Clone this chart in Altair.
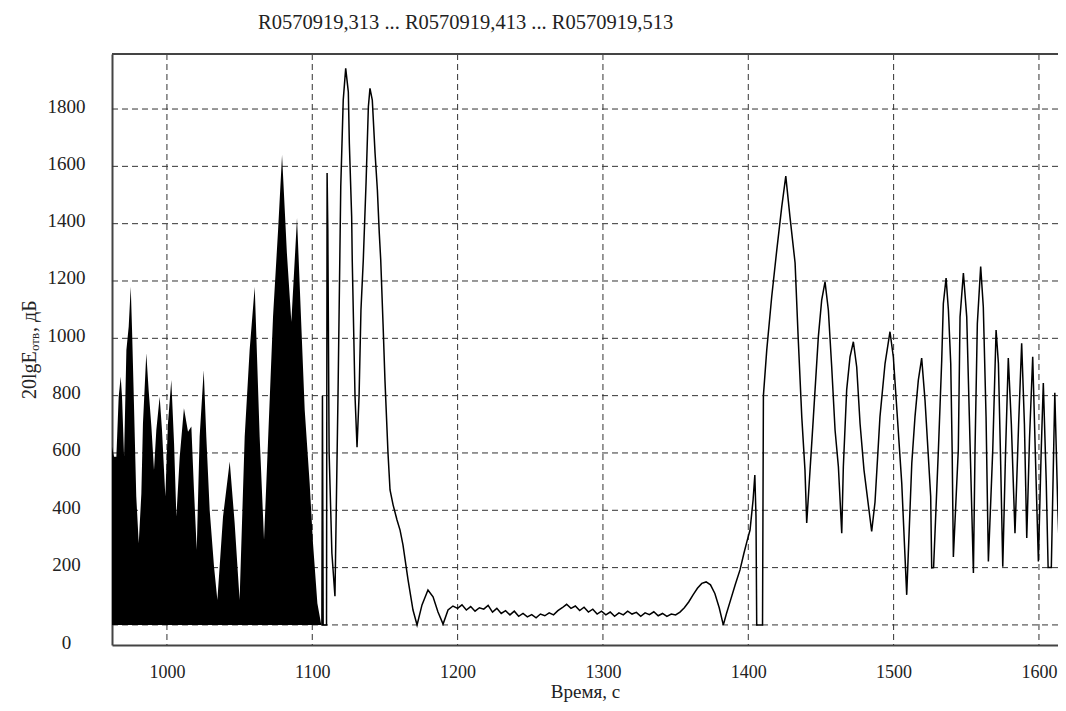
import altair as alt
import pandas as pd

# ---------------- data ----------------
title_text = "R0570919,313 ... R0570919,413 ... R0570919,513"
x_title = "Время, с"

# dense (solid black) region: upper envelope of the signal
dense_t = [962.2, 963.6, 965.2, 966.8, 968.2, 969.1, 970.5, 972.1, 973.7, 975.1,
           976.0, 977.3, 978.9, 980.6, 982.4, 983.5, 985.8, 987.4, 989.3, 991.1,
           992.7, 995.0, 996.6, 998.9, 1000.7, 1003.0, 1004.9, 1006.5, 1008.8, 1011.7,
           1014.5, 1016.8, 1018.6, 1020.5, 1022.5, 1025.3, 1027.1, 1029.4, 1032.4, 1034.7,
           1038.6, 1043.2, 1046.6, 1050.0, 1053.5, 1056.9, 1060.4, 1063.8, 1066.8, 1069.5,
           1073.0, 1076.5, 1079.2, 1082.5, 1085.6, 1089.5, 1094.8, 1098.2, 1100.5, 1103.5,
           1106.2]
dense_v = [622, 587, 587, 796, 866, 796, 587, 959, 1041, 1180,
           1029, 773, 448, 285, 459, 703, 948, 820, 692, 541,
           680, 796, 680, 448, 703, 855, 634, 378, 587, 756,
           674, 692, 471, 262, 657, 889, 657, 401, 203, 87,
           378, 570, 355, 87, 657, 959, 1180, 657, 297, 634,
           1076, 1380, 1640, 1300, 1058, 1420, 750, 494, 285, 76,
           0]

# thin-line part of the signal
line_t = [1106.2, 1106.6, 1107.0, 1107.5, 1109.8, 1110.2, 1110.7, 1111.6, 1113.5, 1115.6,
          1117.7, 1119.6, 1121.3, 1123.0, 1124.8, 1125.5, 1127.1, 1127.5, 1129.4, 1130.8,
          1132.2, 1133.5, 1135.1, 1137.0, 1138.6, 1139.7, 1141.3, 1143.2, 1144.8, 1146.1,
          1147.1, 1148.7, 1150.0, 1152.1, 1153.5, 1155.6, 1158.3, 1160.4, 1162.4, 1165.9,
          1169.3, 1172.1, 1175.5, 1179.6, 1183.1, 1186.5, 1190.0, 1193.4, 1196.8, 1200,
          1203, 1206, 1209, 1212, 1215, 1218, 1221, 1224, 1227, 1230,
          1233, 1236, 1239, 1242, 1245, 1248, 1251, 1254, 1257, 1260,
          1263, 1266, 1269, 1272, 1275, 1278, 1281, 1284, 1287, 1290,
          1293, 1296, 1299, 1302, 1305, 1308, 1311, 1314, 1317, 1320,
          1323, 1326, 1329, 1332, 1335, 1338, 1341, 1344, 1347, 1350,
          1353, 1356, 1359, 1362, 1365, 1368, 1371, 1374, 1377, 1380,
          1382.8, 1385, 1388, 1391, 1394.3, 1397, 1399, 1401.2, 1403.3, 1404.5,
          1405.3, 1405.8, 1409.8, 1410.4, 1412.7, 1416.1, 1419.6, 1423.0, 1425.8, 1428.7,
          1432.2, 1434.4, 1436.8, 1439.0, 1440.2, 1442.5, 1444.8, 1448.2, 1450.5, 1452.8,
          1455.1, 1457.4, 1459.7, 1462.0, 1464.3, 1465.4, 1467.7, 1470.0, 1472.3, 1474.6,
          1476.9, 1479.6, 1484.9, 1487.2, 1490.6, 1494.1, 1497.5, 1499.8, 1502.1, 1505.6,
          1509.0, 1512.5, 1514.7, 1517.0, 1519.3, 1521.6, 1523.9, 1525.5, 1526.2, 1527.5,
          1530.8, 1533.1, 1534.2, 1536.1, 1537.7, 1539.3, 1540.3, 1541.1, 1544.5, 1545.7,
          1548.0, 1550.3, 1552.1, 1554.9, 1556.0, 1557.6, 1559.9, 1561.7, 1563.6, 1565.2,
          1568.2, 1570.5, 1572.1, 1573.5, 1575.1, 1577.0, 1578.9, 1581.0, 1583.5, 1586.0,
          1588.1, 1590.0, 1591.6, 1593.5, 1595.7, 1597.5, 1599.6, 1601.5, 1603.0, 1605.0,
          1606.3, 1608.5, 1610.9, 1613.0, 1614.5, 1617.0, 1619.0]
line_v = [0, 0, 800, 0, 0, 1577, 1378, 600, 250, 100,
          800, 1529, 1831, 1942, 1860, 1681, 1424, 1273, 800, 620,
          800, 1100, 1273, 1542, 1808, 1872, 1831, 1646, 1517, 1367,
          1273, 1050, 855, 600, 471, 419, 366, 331, 279, 157,
          52, 0, 70, 122, 98, 45, 3, 52, 66, 58,
          70, 52, 64, 48, 60, 55, 68, 45, 58, 40,
          50, 35, 48, 30, 40, 28, 36, 25, 38, 32,
          42, 35, 50, 60, 72, 58, 66, 50, 62, 45,
          55, 38, 48, 35, 45, 30, 42, 35, 48, 38,
          44, 30, 42, 36, 46, 32, 40, 30, 38, 35,
          45, 60, 80, 105, 128, 145, 150, 140, 110, 60,
          0, 40, 90, 140, 192, 250, 290, 331, 436, 523,
          380, 0, 0, 800, 959, 1144, 1308, 1458, 1566, 1423,
          1263, 994, 726, 541, 356, 541, 726, 1005, 1133, 1197,
          1098, 900, 680, 552, 320, 552, 820, 935, 988, 900,
          703, 541, 326, 429, 726, 912, 1023, 935, 761, 494,
          105, 564, 726, 854, 931, 784, 587, 448, 199, 200,
          610, 924, 1121, 1210, 1098, 912, 600, 237, 610, 1075,
          1228, 1075, 726, 181, 610, 1052, 1250, 1110, 726, 221,
          610, 1029, 912, 600, 203, 600, 931, 700, 320, 700,
          983, 700, 303, 650, 936, 600, 221, 600, 844, 500,
          200, 200, 810, 400, 200, 200, 820]

grid_y = [0, 200, 400, 600, 800, 1000, 1200, 1400, 1600, 1800]
grid_x = [1000, 1100, 1200, 1300, 1400, 1500, 1600]
y_label_values = [-70, 200, 400, 600, 800, 1000, 1200, 1400, 1600, 1800]

# ---------------- chart ----------------
FONT = "Liberation Serif"
W, H = 946, 591
xscale = alt.Scale(domain=[962.2, 1613.1], nice=False, zero=False)
yscale = alt.Scale(domain=[-70, 1992], nice=False, zero=False)

dense_df = pd.DataFrame({"t": dense_t, "v": dense_v})
line_df = pd.DataFrame({"t": line_t, "v": line_v})
gy_df = pd.DataFrame({"g": grid_y})
gx_df = pd.DataFrame({"g": grid_x})
one = pd.DataFrame({"a": [0]})

x_axis = alt.Axis(values=grid_x, format="d", ticks=False, grid=False,
                  domainColor="#444", domainWidth=2, labelPadding=18,
                  labelFont=FONT, labelFontSize=18, labelColor="#222",
                  title=x_title, titleFont=FONT, titleFontSize=19,
                  titleFontWeight="normal", titleColor="#222", titlePadding=1)
y_axis = alt.Axis(values=y_label_values, format="d",
                  labelExpr="datum.value < 0 ? '0' : datum.label",
                  ticks=False, grid=False, domainColor="#444", domainWidth=2,
                  labelPadding=46, labelAlign="center", labelFont=FONT, labelFontSize=19,
                  labelColor="#222", labelOffset=-3, labelOverlap=False, title=None)

hgrid = alt.Chart(gy_df).mark_rule(color="#333", strokeWidth=1, strokeDash=[6, 4]).encode(
    y=alt.Y("g:Q", scale=yscale, axis=y_axis))
vgrid = alt.Chart(gx_df).mark_rule(color="#333", strokeWidth=1, strokeDash=[6, 4]).encode(
    x=alt.X("g:Q", scale=xscale, axis=x_axis))

area = alt.Chart(dense_df).mark_area(color="black", clip=True).encode(
    x=alt.X("t:Q", scale=xscale, axis=x_axis),
    y=alt.Y("v:Q", scale=yscale, axis=y_axis))

line = alt.Chart(line_df).mark_line(color="black", strokeWidth=1.5, clip=True).encode(
    x=alt.X("t:Q", scale=xscale, axis=x_axis),
    y=alt.Y("v:Q", scale=yscale, axis=y_axis))

top_border = alt.Chart(one).mark_rule(color="#444", strokeWidth=2).encode(
    y=alt.value(0))

ytitle_a = alt.Chart(one).mark_text(text="20lgE", angle=270, align="left", baseline="middle",
                                    font=FONT, fontSize=20, color="#222").encode(
    x=alt.value(-82), y=alt.value(345))
ytitle_b = alt.Chart(one).mark_text(text="отв", angle=270, align="left", baseline="middle",
                                    font=FONT, fontSize=13, color="#222").encode(
    x=alt.value(-77), y=alt.value(297))
ytitle_c = alt.Chart(one).mark_text(text=", дБ", angle=270, align="left", baseline="middle",
                                    font=FONT, fontSize=20, color="#222").encode(
    x=alt.value(-82), y=alt.value(278))

chart = alt.layer(hgrid, vgrid, area, line, top_border, ytitle_a, ytitle_b, ytitle_c).properties(
    width=W, height=H,
    title=alt.TitleParams(title_text, anchor="start", frame="group", dx=146, offset=20,
                          font=FONT, fontSize=20.5, fontWeight="normal", color="#222"),
    autosize=alt.AutoSizeParams(type="none"),
    padding={"left": 104, "top": 46, "right": 0, "bottom": 58},
    background="white",
).configure_view(stroke=None)

chart.save("out.html", embed_options={"renderer": "svg", "actions": False})
